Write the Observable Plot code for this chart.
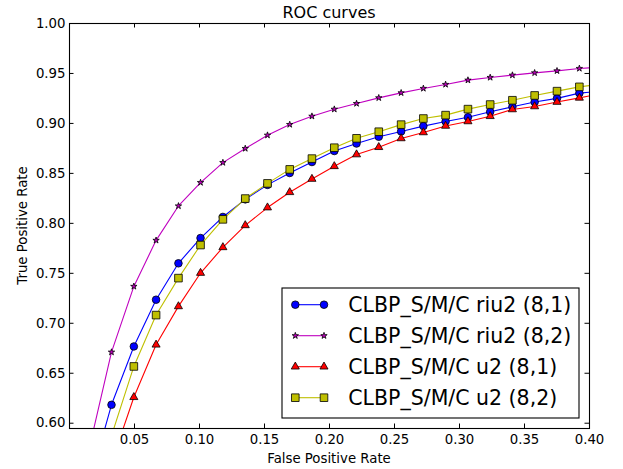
<!DOCTYPE html>
<html>
<head>
<meta charset="utf-8">
<script src="https://cdn.jsdelivr.net/npm/d3@7"></script>
<script src="https://cdn.jsdelivr.net/npm/@observablehq/plot@0.6"></script>
<style>
  html, body { margin: 0; padding: 0; background: #fff; }
  svg { display: block; }
</style>
</head>
<body>
<div id="chart"></div>
<script>
// ---- data ----
const fpr = [0.0323, 0.0495, 0.0666, 0.0838, 0.1008, 0.1180, 0.1352, 0.1523, 0.1694, 0.1865, 0.2037,
             0.2208, 0.2379, 0.2551, 0.2722, 0.2893, 0.3065, 0.3236, 0.3407, 0.3578, 0.3750, 0.3922];
const tprRiu2_81 = [0.6184, 0.6768, 0.7236, 0.7600, 0.7853, 0.8064, 0.8240, 0.8385, 0.8504, 0.8614, 0.8724,
                    0.8799, 0.8867, 0.8920, 0.8973, 0.9019, 0.9062, 0.9116, 0.9166, 0.9214, 0.9251, 0.9303];
const tprRiu2_82 = [0.6711, 0.7369, 0.7830, 0.8174, 0.8408, 0.8608, 0.8749, 0.8882, 0.8989, 0.9072, 0.9142,
                    0.9199, 0.9256, 0.9306, 0.9350, 0.9390, 0.9433, 0.9460, 0.9483, 0.9506, 0.9526, 0.9550];
const tprU2_81   = [null, 0.6260, 0.6785, 0.7169, 0.7503, 0.7760, 0.7980, 0.8158, 0.8311, 0.8444, 0.8571,
                    0.8689, 0.8762, 0.8850, 0.8910, 0.8975, 0.9020, 0.9072, 0.9140, 0.9170, 0.9214, 0.9256];
const tprU2_82   = [null, 0.6568, 0.7082, 0.7452, 0.7783, 0.8040, 0.8248, 0.8400, 0.8540, 0.8648, 0.8757,
                    0.8851, 0.8917, 0.8988, 0.9049, 0.9083, 0.9143, 0.9189, 0.9232, 0.9280, 0.9323, 0.9366];
// where each curve leaves the bottom edge and meets the right edge
const curveStartFpr = [0.0272, 0.0187, 0.0413, 0.0341];
const curveEndTpr   = [0.9313, 0.9556, 0.9276, 0.9379];

const seriesNames   = ["CLBP_S/M/C riu2 (8,1)", "CLBP_S/M/C riu2 (8,2)", "CLBP_S/M/C u2 (8,1)", "CLBP_S/M/C u2 (8,2)"];
const seriesColors  = ["#0000ff", "#bf00bf", "#ff0000", "#bfbf00"];
const seriesSymbols = ["circle", "star", "triangle", "square"];
const seriesTpr     = [tprRiu2_81, tprRiu2_82, tprU2_81, tprU2_82];

const xTicks = [0.05, 0.10, 0.15, 0.20, 0.25, 0.30, 0.35, 0.40];
const yTicks = [0.60, 0.65, 0.70, 0.75, 0.80, 0.85, 0.90, 0.95, 1.00];
const xDomain = [0, 0.40];
const yDomain = [0.5947, 1.0];

// ---- layout ----
const W = 623, H = 469;
const mL = 69, mR = 34, mT = 23, mB = 41;
const fw = W - mL - mR, fh = H - mT - mB;
const tickLen = 4.5;
const font = "DejaVu Sans";
const symbolR = {circle: 3.8, star: 2.0, triangle: 3.0, square: 4.3};

const series = seriesNames.map((name, i) => {
  const pts = fpr.map((x, j) => ({x, y: seriesTpr[i][j]})).filter(d => d.y != null);
  const line = [{x: curveStartFpr[i], y: yDomain[0]}, ...pts, {x: xDomain[1], y: curveEndTpr[i]}];
  return {name, color: seriesColors[i], symbol: seriesSymbols[i], pts, line};
});

const marks = [];
for (const s of series) {
  marks.push(Plot.line(s.line, {x: "x", y: "y", stroke: s.color, strokeWidth: 1.1, clip: true}));
  marks.push(Plot.dot(s.pts, {x: "x", y: "y", symbol: s.symbol, r: symbolR[s.symbol],
                              fill: s.color, stroke: "black", strokeWidth: 0.8}));
}
marks.push(
  Plot.frame({stroke: "black", strokeWidth: 1.1}),
  Plot.tickX(xTicks, {x: d => d, insetTop: fh - tickLen, stroke: "black"}),
  Plot.tickX(xTicks, {x: d => d, insetBottom: fh - tickLen, stroke: "black"}),
  Plot.tickY(yTicks, {y: d => d, insetRight: fw - tickLen, stroke: "black"}),
  Plot.tickY(yTicks, {y: d => d, insetLeft: fw - tickLen, stroke: "black"}),
  Plot.axisX(xTicks, {tickSize: 0, tickPadding: 6, tickFormat: d3.format(".2f"), label: null, fontSize: 13.3}),
  Plot.axisY(yTicks, {tickSize: 0, tickPadding: 4, tickFormat: d3.format(".2f"), label: null, fontSize: 13.3})
);

const chart = Plot.plot({
  width: W, height: H,
  marginLeft: mL, marginRight: mR, marginTop: mT, marginBottom: mB,
  style: {fontFamily: font, fontSize: "13.3px", background: "#fff", color: "black"},
  x: {domain: xDomain, label: null},
  y: {domain: yDomain, label: null},
  marks
});
document.getElementById("chart").appendChild(chart);

// ---- title, axis labels, legend ----
const svg = d3.select(chart);
const cx = mL + fw / 2, cy = mT + fh / 2;
svg.append("text").attr("x", cx).attr("y", 17.7).attr("text-anchor", "middle")
  .attr("font-family", font).attr("font-size", 16).attr("fill", "black").text("ROC curves");
svg.append("text").attr("x", cx).attr("y", 462.7).attr("text-anchor", "middle")
  .attr("font-family", font).attr("font-size", 13.3).attr("fill", "black").text("False Positive Rate");
svg.append("text").attr("transform", `translate(27,${cy}) rotate(-90)`).attr("text-anchor", "middle")
  .attr("font-family", font).attr("font-size", 13.3).attr("fill", "black").text("True Positive Rate");

const symbolMap = {circle: d3.symbolCircle, star: d3.symbolStar, triangle: d3.symbolTriangle, square: d3.symbolSquare};
const lg = svg.append("g").attr("text-anchor", "start");
lg.append("rect").attr("x", 282).attr("y", 288).attr("width", 297).attr("height", 130)
  .attr("fill", "#fff").attr("stroke", "black").attr("stroke-width", 1.1);
series.forEach((s, i) => {
  const yy = 304.7 + i * 31;
  lg.append("line").attr("x1", 295.3).attr("x2", 324).attr("y1", yy).attr("y2", yy)
    .attr("stroke", s.color).attr("stroke-width", 1.1);
  const sym = d3.symbol(symbolMap[s.symbol], Math.PI * symbolR[s.symbol] ** 2)();
  for (const mx of [295.3, 324]) {
    lg.append("path").attr("d", sym).attr("transform", `translate(${mx},${yy})`)
      .attr("fill", s.color).attr("stroke", "black").attr("stroke-width", 0.8);
  }
  lg.append("text").attr("x", 348.3).attr("y", yy + 7.5).attr("text-anchor", "start")
    .attr("font-family", font).attr("font-size", 20.5).attr("fill", "black").text(s.name);
});
</script>
</body>
</html>
